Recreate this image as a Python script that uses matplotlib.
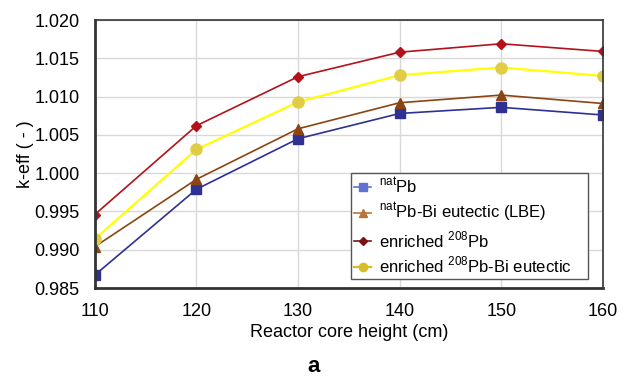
import matplotlib
matplotlib.use("Agg")
import matplotlib.pyplot as plt

plt.rcParams['font.family'] = ['Liberation Sans', 'DejaVu Sans']
plt.rcParams['mathtext.fontset'] = 'custom'
plt.rcParams['mathtext.rm'] = 'Liberation Sans'

heights = [110, 120, 130, 140, 150, 160]
nat_pb = [0.9867, 0.9979, 1.0045, 1.0078, 1.0086, 1.0076]
nat_lbe = [0.9904, 0.9992, 1.0058, 1.0092, 1.0102, 1.0091]
enr_pb = [0.9946, 1.0062, 1.0126, 1.0158, 1.0169, 1.0159]
enr_lbe = [0.9914, 1.0031, 1.0093, 1.0128, 1.0138, 1.0127]

labels = [r'$^{\mathrm{nat}}$Pb',
          r'$^{\mathrm{nat}}$Pb-Bi eutectic (LBE)',
          r'enriched $^{\mathrm{208}}$Pb',
          r'enriched $^{\mathrm{208}}$Pb-Bi eutectic']

fig = plt.figure(figsize=(6.28, 3.78), dpi=100)
ax = fig.add_axes([0.151, 0.238, 0.809, 0.709])

ax.plot(heights, nat_pb, color='#2e3192', lw=1.2, marker='s', ms=7, label=labels[0])
ax.plot(heights, nat_lbe, color='#8b4513', lw=1.2, marker='^', ms=7, label=labels[1])
ax.plot(heights, enr_pb, color='#b3121b', lw=1.2, marker='D', ms=5, label=labels[2])
ax.plot(heights, enr_lbe, color='#ffff00', lw=1.6, marker='o', ms=8,
        mfc='#e0cc45', mec='#e0cc45', label=labels[3])

ax.set_xlim(110, 160)
ax.set_ylim(0.985, 1.020)
ax.set_xticks(heights)
ax.set_yticks([0.985, 0.990, 0.995, 1.000, 1.005, 1.010, 1.015, 1.020])
ax.set_yticklabels(['%.3f' % v for v in ax.get_yticks()])
ax.tick_params(labelsize=13, length=0)
ax.tick_params(axis='y', pad=11)
ax.tick_params(axis='x', pad=11)
ax.grid(True, color='#d9d9d9', lw=1)
ax.set_axisbelow(True)
for s in ax.spines.values():
    s.set_color('#333333')
    s.set_linewidth(1.2)
ax.spines['left'].set_linewidth(2)
ax.spines['bottom'].set_linewidth(2)

ax.set_xlabel('Reactor core height (cm)', fontsize=13, labelpad=3)
ax.set_ylabel('k-eff ( - )', fontsize=13, labelpad=0)

leg = ax.legend(loc='upper left', bbox_to_anchor=(0.504, 0.0, 0.466, 0.431),
                mode='expand', fontsize=12,
                fancybox=False, edgecolor='#555555', framealpha=1,
                handlelength=1.0, markerscale=0.75, labelspacing=0.3,
                borderpad=0.2, handletextpad=0.5, borderaxespad=0)
leg.get_frame().set_linewidth(1)
# legend symbols are drawn lighter than the plotted markers
leg_colors = ['#6272d2', '#b8743a', '#7a1414', '#d8bc2a']
for h, c in zip(leg.legend_handles, leg_colors):
    h.set_color(c)
    h.set_markerfacecolor(c)
    h.set_markeredgecolor(c)

fig.text(0.5, 0.03, 'a', fontsize=16, fontweight='bold', ha='center', va='center')

fig.savefig('out.png', dpi=100)
